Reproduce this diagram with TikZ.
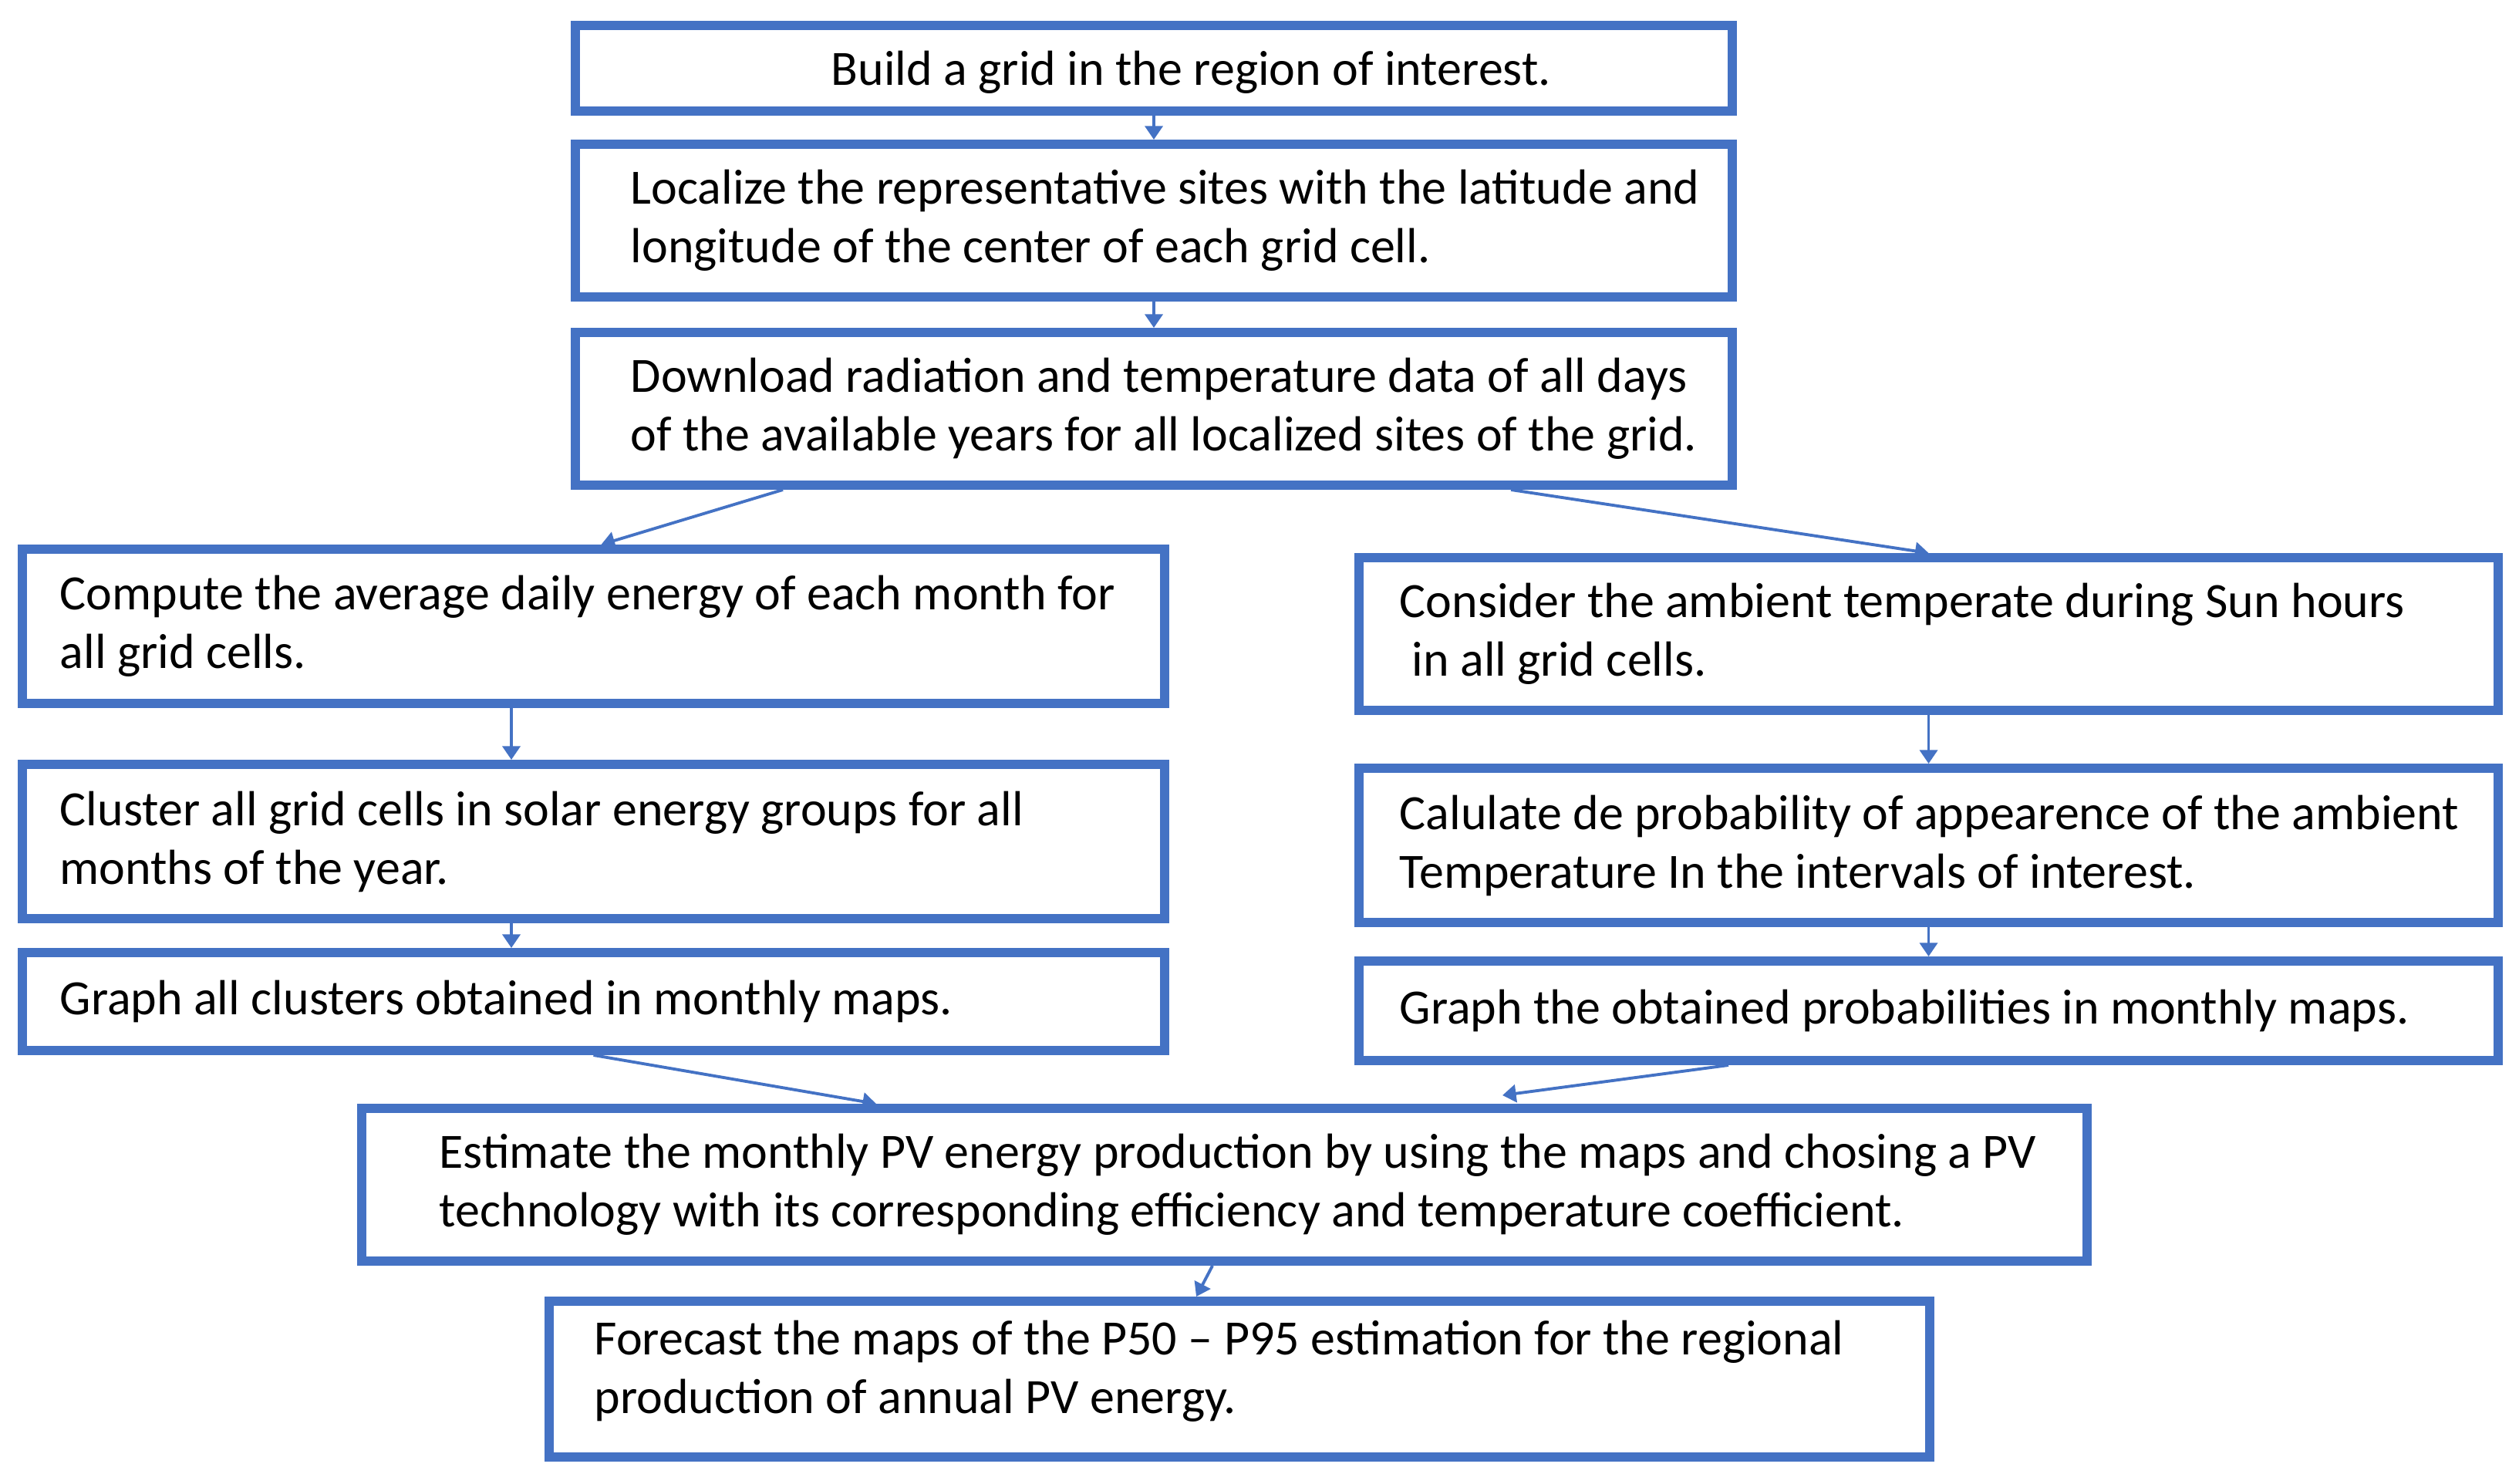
\documentclass[tikz,border=0pt]{standalone}
\usepackage{fontspec}
\setmainfont{Carlito}
\usetikzlibrary{arrows.meta,calc}
\definecolor{boxblue}{RGB}{68,114,196}

\begin{document}
\begin{tikzpicture}[every node/.style={font=\fontsize{18.2}{21.6}\selectfont},
  stepbox/.style={draw=boxblue,line width=3.4pt},
  steptext/.style={anchor=west,align=left,inner sep=0pt},
  flow/.style={draw=boxblue,line width=1.1pt,-{Triangle[length=5pt,width=6.5pt]}}]
\useasboundingbox (0,0) rectangle (32.66,-19.23);

% boxes
\node[stepbox,minimum width=15cm,minimum height=1.11cm] (s1) at (14.96,-.885) {};
\node[stepbox,minimum width=15cm,minimum height=1.98cm] (s2) at (14.96,-2.86) {};
\node[stepbox,minimum width=15cm,minimum height=1.98cm] (s3) at (14.96,-5.30) {};
\node[stepbox,minimum width=14.81cm,minimum height=2cm] (s4) at (7.695,-8.12) {};
\node[stepbox,minimum width=14.81cm,minimum height=2cm] (s6) at (7.695,-10.91) {};
\node[stepbox,minimum width=14.81cm,minimum height=1.27cm] (s8) at (7.695,-12.985) {};
\node[stepbox,minimum width=14.77cm,minimum height=1.98cm] (s5) at (25.005,-8.22) {};
\node[stepbox,minimum width=14.77cm,minimum height=2cm] (s7) at (25.005,-10.96) {};
\node[stepbox,minimum width=14.77cm,minimum height=1.29cm] (s9) at (25.005,-13.105) {};
\node[stepbox,minimum width=22.37cm,minimum height=1.98cm] (s10) at (15.875,-15.36) {};
\node[stepbox,minimum width=17.9cm,minimum height=2.02cm] (s11) at (16.07,-17.88) {};

% texts
\node[steptext] (t1) at ([xshift=3.37cm,yshift=-.05cm]s1.west) {Build a grid in the region of interest.};
\node[steptext] (t2) at ([xshift=.77cm]s2.west)
  {Localize the representative sites with the latitude and\\longitude of the center of each grid cell.};
\node[steptext] (t3) at ([xshift=.77cm]s3.west)
  {Download radiation and temperature data of all days\\of the available years for all localized sites of the grid.};
\node[steptext] (t4) at ([xshift=.54cm]s4.west)
  {Compute the average daily energy of each month for\\all grid cells.};
\node[steptext] (t6) at ([xshift=.54cm]s6.west)
  {Cluster all grid cells in solar energy groups for all\\months of the year.};
\node[steptext] (t8) at ([xshift=.54cm]s8.west) {Graph all clusters obtained in monthly maps.};
\node[steptext] (t5) at ([xshift=.58cm]s5.west)
  {Consider the ambient temperate during Sun hours\\\hspace*{.25em}in all grid cells.};
\node[steptext] (t7) at ([xshift=.58cm]s7.west)
  {Calulate de probability of appearence of the ambient\\Temperature In the intervals of interest.};
\node[steptext] (t9) at ([xshift=.58cm]s9.west) {Graph the obtained probabilities in monthly maps.};
\node[steptext] (t10) at ([xshift=1.06cm]s10.west)
  {Estimate the monthly PV energy production by using the maps and chosing a PV\\technology with its corresponding efficiency and temperature coefficient.};
\node[steptext] (t11) at ([xshift=.64cm,yshift=.1cm]s11.west)
  {Forecast the maps of the P50 -- P95 estimation for the regional\\production of annual PV energy.};

% connectors
\draw[flow] (s1.south) -- (s2.north);
\draw[flow] (s2.south) -- (s3.north);
\draw[flow] ([xshift=2.75cm]s3.south west) -- ([xshift=.1cm]s4.north);
\draw[flow] ([xshift=12.19cm]s3.south west) -- (s5.north);
\draw[flow] ([xshift=-1.065cm]s4.south) -- ([xshift=-1.065cm]s6.north);
\draw[flow] ([xshift=-1.065cm]s6.south) -- ([xshift=-1.065cm]s8.north);
\draw[flow] (s5.south) -- (s7.north);
\draw[flow] (s7.south) -- (s9.north);
\draw[flow] (s8.south) -- ([xshift=6.73cm]s10.north west);
\draw[flow] ([xshift=4.85cm]s9.south west) -- ([xshift=14.85cm,yshift=.11cm]s10.north west);
\draw[flow] ([xshift=11.09cm]s10.south west) -- ([xshift=8.45cm]s11.north west);
\end{tikzpicture}
\end{document}
